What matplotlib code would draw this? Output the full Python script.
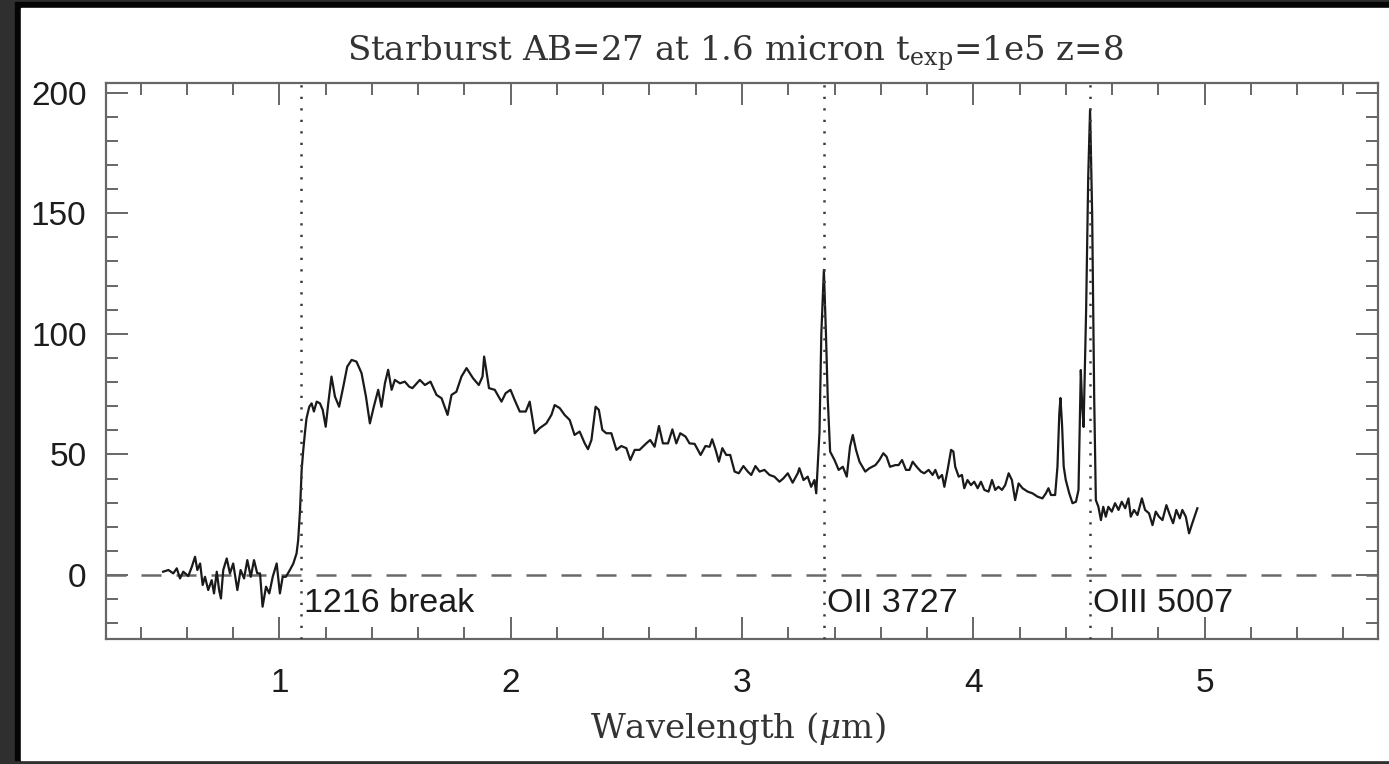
import matplotlib
matplotlib.use("Agg")
import matplotlib.pyplot as plt
from matplotlib.patches import Rectangle

plt.rcParams['mathtext.fontset'] = 'dejavuserif'

# ---- data ----
wavelength = [
    0.497, 0.520, 0.541, 0.556, 0.570, 0.584, 0.606, 0.621, 0.635, 0.645,
    0.657, 0.668, 0.678, 0.692, 0.707, 0.717, 0.729, 0.739, 0.747, 0.757,
    0.772, 0.786, 0.800, 0.818, 0.832, 0.847, 0.861, 0.876, 0.890, 0.904,
    0.916, 0.927, 0.942, 0.956, 0.971, 0.988, 1.002, 1.014, 1.028, 1.045,
    1.060, 1.074, 1.081, 1.089, 1.096, 1.103, 1.110, 1.117, 1.129, 1.139,
    1.149, 1.161, 1.175, 1.187, 1.200, 1.211, 1.225, 1.240, 1.258, 1.276,
    1.293, 1.312, 1.333, 1.355, 1.374, 1.391, 1.408, 1.427, 1.441, 1.456,
    1.470, 1.485, 1.499, 1.521, 1.542, 1.561,
    1.575, 1.607, 1.629, 1.653, 1.679, 1.701, 1.727, 1.744, 1.765, 1.787,
    1.809, 1.837, 1.862, 1.878, 1.885, 1.892, 1.906, 1.931, 1.960, 1.978,
    1.999, 2.017, 2.039, 2.065, 2.082, 2.104, 2.125, 2.154, 2.176, 2.190,
    2.212, 2.233, 2.255, 2.276, 2.298, 2.320, 2.334, 2.349, 2.367, 2.381,
    2.396, 2.413, 2.435, 2.457, 2.478, 2.500, 2.517, 2.536, 2.557, 2.586,
    2.603, 2.622, 2.641, 2.658, 2.680, 2.699, 2.716, 2.733, 2.756, 2.773,
    2.795, 2.821, 2.842, 2.860, 2.871, 2.886, 2.900, 2.915, 2.932, 2.949,
    2.968, 2.986, 3.006, 3.025, 3.040, 3.058, 3.076, 3.097, 3.119, 3.140,
    3.162, 3.179, 3.198, 3.219, 3.241, 3.248, 3.266, 3.284, 3.299, 3.313,
    3.321, 3.335, 3.343, 3.354, 3.363, 3.371, 3.381, 3.400, 3.418, 3.436,
    3.453, 3.467, 3.479, 3.493, 3.508, 3.533, 3.551, 3.577, 3.594, 3.611,
    3.625, 3.640, 3.663, 3.677, 3.692, 3.709, 3.724, 3.738, 3.755, 3.774,
    3.788, 3.807, 3.824, 3.836, 3.850, 3.865, 3.875, 3.889, 3.904, 3.914,
    3.922, 3.937, 3.951, 3.961, 3.975, 3.990, 4.004, 4.019, 4.033, 4.048,
    4.066, 4.081, 4.095, 4.109, 4.124, 4.138, 4.153, 4.167, 4.181, 4.196,
    4.213, 4.235, 4.256, 4.278, 4.299, 4.314, 4.325, 4.336, 4.354, 4.364,
    4.372, 4.377, 4.384, 4.391, 4.400, 4.415, 4.429, 4.444, 4.455, 4.460,
    4.465, 4.471, 4.477, 4.488, 4.497, 4.505, 4.514, 4.523, 4.530, 4.541,
    4.552, 4.562, 4.573, 4.584, 4.599, 4.613, 4.628, 4.642, 4.657, 4.671,
    4.681, 4.695, 4.710, 4.729, 4.743, 4.760, 4.775, 4.789, 4.803, 4.818,
    4.835, 4.850, 4.864, 4.878, 4.893, 4.904, 4.919, 4.933, 4.947, 4.969,
]
flux = [
    1.4, 2.1, 0.7, 2.8, -1.4, 1.4, -0.4, 3.4, 7.6, 2.1,
    4.8, -4.1, -0.7, -6.2, -2.1, -7.6, 1.4, -6.2, -9.7, 2.1,
    6.9, 0.7, 4.8, -6.2, 2.1, -1.4, 6.2, -0.7, 6.2, 0.7,
    0.7, -13.1, -4.8, -7.6, -0.7, 4.8, -7.6, -0.7, -0.7, 2.1,
    4.8, 9.0, 14.5, 27.0, 43.6, 51.9, 58.8, 65.0, 69.8, 71.2,
    67.8, 71.9, 71.2, 68.5, 61.5, 71.2, 82.3, 74.0, 69.8, 78.1,
    86.4, 89.2, 88.5, 83.7, 74.0, 62.9, 69.8, 76.8, 69.8, 79.5,
    85.1, 76.8, 80.9, 79.5, 80.2, 78.1,
    77.5, 80.9, 78.8, 80.2, 74.7, 73.3, 66.4, 74.7, 76.0, 82.3,
    85.8, 81.6, 78.8, 82.3, 90.6, 86.4, 77.5, 76.8, 71.9, 75.4,
    76.8, 72.6, 67.8, 67.8, 71.9, 58.8, 60.9, 62.9, 66.4, 70.5,
    69.2, 66.4, 64.3, 58.1, 59.5, 54.6, 52.2, 56.0, 69.8, 68.5,
    60.2, 58.8, 58.8, 51.9, 53.5, 52.6, 47.7, 51.9, 51.9, 54.6,
    56.0, 53.2, 61.8, 54.6, 54.6, 60.4, 54.6, 58.8, 57.4, 54.6,
    54.4, 49.8, 53.5, 53.2, 56.3, 51.9, 47.0, 52.6, 49.8, 49.8,
    42.9, 42.2, 45.2, 42.9, 41.5, 45.2, 42.9, 43.6, 41.5, 40.8,
    38.7, 40.1, 42.2, 38.3, 42.2, 44.3, 39.4, 40.8, 36.6, 39.4,
    33.9, 59.0, 100.0, 126.5, 100.0, 72.6, 51.2, 47.7, 43.6, 44.9,
    40.8, 53.2, 58.1, 51.9, 47.0, 42.9, 44.3, 45.6, 47.7, 50.5,
    49.1, 44.9, 45.6, 45.6, 47.7, 43.6, 43.6, 47.0, 44.9, 42.9,
    42.2, 43.6, 41.5, 43.6, 40.1, 41.5, 36.6, 43.6, 51.9, 51.2,
    44.9, 40.8, 41.5, 36.0, 39.4, 37.3, 38.7, 36.0, 38.7, 35.3,
    34.6, 39.4, 35.3, 36.6, 35.3, 37.3, 42.2, 39.4, 31.1, 38.0,
    36.0, 34.6, 33.9, 32.5, 31.8, 33.9, 36.0, 33.2, 33.2, 44.9,
    67.0, 73.4, 62.0, 45.0, 39.4, 33.9, 29.8, 30.4, 35.3, 60.0,
    85.0, 70.0, 61.4, 110.0, 165.0, 193.0, 150.0, 72.6, 31.1, 28.3,
    22.8, 28.3, 24.2, 28.3, 26.3, 29.8, 27.0, 30.4, 27.7, 31.8,
    24.2, 27.0, 24.9, 31.8, 27.0, 25.6, 20.7, 26.3, 24.2, 22.8,
    29.0, 24.9, 21.5, 27.0, 23.5, 27.0, 24.2, 17.3, 21.5, 27.7,
]

redshift = 8
line_rest = [1216, 3727, 5007]          # Angstrom
line_labels = ["1216 break", "OII 3727", "OIII 5007"]
line_obs = [w * (1 + redshift) / 1e4 for w in line_rest]   # micron

title = r"Starburst AB=27 at 1.6 micron t$_{\mathrm{exp}}$=1e5 z=8"
xlabel = r"Wavelength ($\mu$m)"
xticks = [1, 2, 3, 4, 5]
yticks = [0, 50, 100, 150, 200]

# ---- figure ----
W, H = 1389, 764
fig = plt.figure(figsize=(W / 100, H / 100), dpi=100)
fig.patch.set_facecolor('#2f2f2f')
fig.patches.append(Rectangle((15 / W, 4 / H), 1, (762 - 4) / H,
                             transform=fig.transFigure, color='#050505', zorder=-3))
fig.patches.append(Rectangle((21 / W, 4 / H), 1, (756 - 4) / H,
                             transform=fig.transFigure, color='white', zorder=-2))

ax = fig.add_axes([106 / W, (H - 639) / H, (1378 - 106) / W, (639 - 83) / H])
ax.set_zorder(5)
ax.set_facecolor('white')

ax.plot(wavelength, flux, color='#1a1a1a', lw=1.6, zorder=3)
ax.axhline(0, color='#6a6a6a', lw=1.8, dashes=(8, 6), zorder=2)
for xo, lab in zip(line_obs, line_labels):
    ax.axvline(xo, color='#3a3a3a', lw=1.8, dashes=(0.9, 3.7), zorder=4)
    ax.text(xo + 0.012, -15.5, lab, fontsize=24.5, family='Liberation Sans',
            color='#1c1c1c', ha='left', va='baseline')

ax.set_xlim(0.25, 5.75)
ax.set_ylim(-26.5, 204)
ax.set_xticks(xticks)
ax.set_yticks(yticks)
ax.set_xticks([0.4 + 0.2 * i for i in range(27) if abs((0.4 + 0.2 * i) - round(0.4 + 0.2 * i)) > 1e-6], minor=True)
ax.set_yticks([v for v in range(-20, 201, 10) if v % 50 != 0], minor=True)

for s in ax.spines.values():
    s.set_color('#666666')
    s.set_linewidth(1.6)

ax.tick_params(which='both', direction='in', top=True, right=True,
               color='#666666', width=1.4)
ax.tick_params(which='major', length=16)
ax.tick_params(which='minor', length=8.5)
ax.tick_params(axis='x', which='major', pad=21)
ax.tick_params(axis='y', which='major', pad=14)
for lab in ax.get_xticklabels() + ax.get_yticklabels():
    lab.set_fontfamily('Liberation Sans')
    lab.set_fontsize(24)
    lab.set_color('#1c1c1c')

fig.text(735 / W, (H - 61) / H, title, ha='center', va='baseline',
         fontsize=24.5, family='DejaVu Serif', color='#333333')
fig.text(738 / W, (H - 738) / H, xlabel, ha='center', va='baseline',
         fontsize=24.5, family='DejaVu Serif', color='#333333')

fig.savefig('out.png', dpi=100, facecolor=fig.get_facecolor())
